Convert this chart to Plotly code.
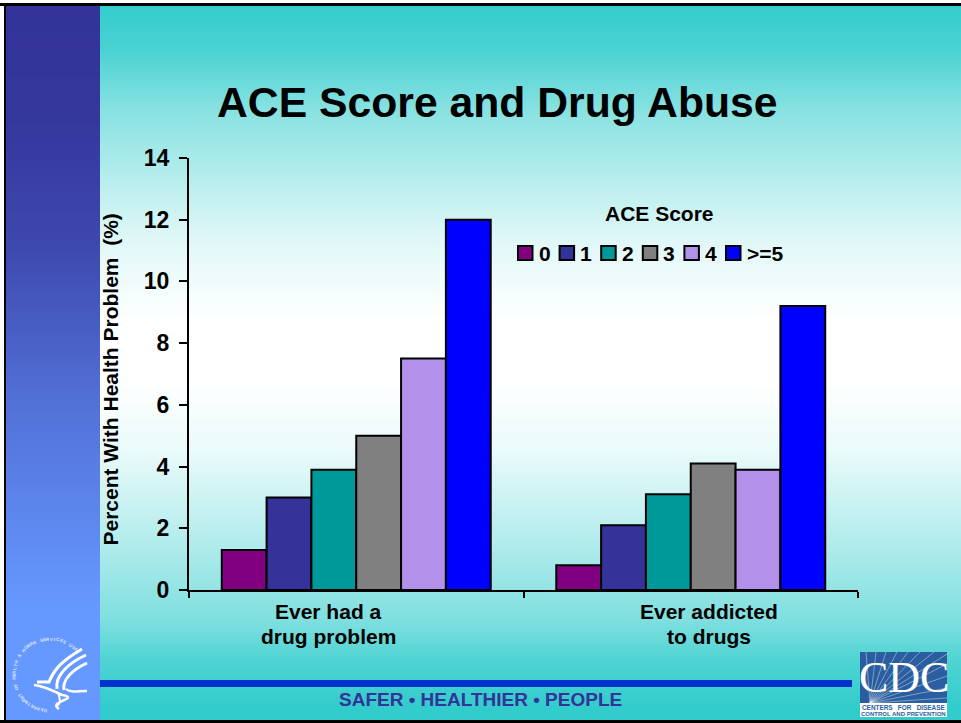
import base64
import math
import struct
import zlib

import numpy as np
import plotly.graph_objects as go

W, H = 961, 723

# ---- data ----
CATEGORIES = ["Ever had a<br>drug problem", "Ever addicted<br>to drugs"]
CATEGORY_LABEL_X = [328, 708.5]
SERIES_NAMES = ["0", "1", "2", "3", "4", ">=5"]
SERIES_COLORS = ["#800080", "#333399", "#009999", "#808080", "#B391EB", "#0000FF"]
SCORE_0 = [1.3, 0.8]
SCORE_1 = [3.0, 2.1]
SCORE_2 = [3.9, 3.1]
SCORE_3 = [5.0, 4.1]
SCORE_4 = [7.5, 3.9]
SCORE_5 = [12.0, 9.2]
SERIES_VALUES = [SCORE_0, SCORE_1, SCORE_2, SCORE_3, SCORE_4, SCORE_5]
Y_TICKS = [0, 2, 4, 6, 8, 10, 12, 14]

TITLE = "ACE Score and Drug Abuse"
Y_TITLE = "Percent With Health Problem \u00a0(%)"
LEGEND_TITLE = "ACE Score"
FOOTER = "SAFER \u2022 HEALTHIER \u2022 PEOPLE"
SEAL_TEXT = "DEPARTMENT OF HEALTH & HUMAN SERVICES USA"

FONT = "Liberation Sans"


def px(x):
    return x / W


def py(y):
    return 1 - y / H


def png_background():
    ys = np.arange(H)
    white = np.interp(ys, [5, 50, 110, 240, 320, 380, 450, 550, 620, 660, 705],
                      [0, .12, .42, .85, 1, 1, .9, .6, .37, .14, 0])
    band = np.interp(ys, [5, 120, 240, 400, 610], [0, .04, .2, .6, 1])
    teal = np.array([0x33, 0xCC, 0xCC], float)
    b0 = np.array([0x33, 0x33, 0x99], float)
    b1 = np.array([0x66, 0x99, 0xFF], float)
    rows = []
    for y in range(H):
        row = np.zeros((W, 3), dtype=np.uint8)
        row[:] = (teal + (255 - teal) * white[y]).round()
        row[:100] = (b0 + (b1 - b0) * band[y]).round()
        row[:4] = 255
        row[4:6] = 0
        if y < 3:
            row[:] = 255
        elif y < 6:
            row[:] = 0
        if y >= 720:
            row[:] = 0
        rows.append(b"\x00" + row.tobytes())
    raw = zlib.compress(b"".join(rows), 9)

    def chunk(tag, data):
        return (struct.pack(">I", len(data)) + tag + data +
                struct.pack(">I", zlib.crc32(tag + data) & 0xFFFFFFFF))

    png = (b"\x89PNG\r\n\x1a\n" +
           chunk(b"IHDR", struct.pack(">IIBBBBB", W, H, 8, 2, 0, 0, 0)) +
           chunk(b"IDAT", raw) + chunk(b"IEND", b""))
    return "data:image/png;base64," + base64.b64encode(png).decode()


def path(cmds):
    out = []
    for c in cmds:
        if isinstance(c, str):
            out.append(c)
        else:
            out.append(f"{px(c[0]):.5f},{py(c[1]):.5f}")
    return " ".join(out)


fig = go.Figure()
for name, vals, col in zip(SERIES_NAMES, SERIES_VALUES, SERIES_COLORS):
    fig.add_trace(go.Bar(name=name, x=CATEGORIES, y=vals, marker=dict(color=col, line=dict(color="black", width=2))))

shapes = []
ann = []


def text(x, y, s, size, color="black", bold=True, family=FONT, angle=0, xanchor="center", opacity=1):
    ann.append(dict(xref="paper", yref="paper", x=px(x), y=py(y), text=s, showarrow=False,
                    xanchor=xanchor, yanchor="middle", textangle=angle, opacity=opacity,
                    font=dict(family=family, size=size, color=color, weight=700 if bold else 400)))


text(498, 102, TITLE, 42.7)
text(109.5, 380, Y_TITLE, 21, angle=-90)
for cat, cx in zip(CATEGORIES, CATEGORY_LABEL_X):
    for line, ly in zip(cat.split("<br>"), [611.5, 636.5]):
        text(cx, ly, line, 21)

# legend
text(659, 213, LEGEND_TITLE, 21)
for i, (name, col) in enumerate(zip(SERIES_NAMES, SERIES_COLORS)):
    x0 = 518 + i * 41.6
    shapes.append(dict(type="rect", xref="paper", yref="paper", x0=px(x0), x1=px(x0 + 14.5), y0=py(260), y1=py(246),
                       fillcolor=col, line=dict(color="black", width=2)))
    text(x0 + 18.5, 254, name, 21, xanchor="left")

# footer rule and text
shapes.append(dict(type="rect", xref="paper", yref="paper", x0=px(100), x1=px(852), y0=py(687), y1=py(680),
                   fillcolor="#0033CC", line=dict(width=0)))
text(480, 699, FOOTER, 19, color="#333399")

# HHS seal
scx, scy, r = 50, 675, 36
n = len(SEAL_TEXT)
for i, ch in enumerate(SEAL_TEXT):
    a = math.radians(-172 + i * 218 / (n - 1))
    text(scx + r * math.sin(a), scy - r * math.cos(a), ch, 4.5, color="white", angle=math.degrees(a), opacity=.75)
strokes = [
    ([(37, 682), "L", (49, 682), "C", (54, 670), (60, 662), (82, 649)], 3),
    ([(57, 689), "C", (55, 677), (66, 664), (86, 655)], 3),
    ([(64, 690), "C", (62, 680), (72, 670), (87, 663)], 3),
    ([(34, 685), "C", (44, 686), (54, 691), (62, 695), "C", (69, 696), (70, 698), (64, 700),
      "C", (58, 703), (53, 705), (59, 709)], 2.6),
    ([(66, 689), "C", (70, 693), (78, 691), (87, 691)], 2.4),
    ([(58, 692), "C", (60, 700), (62, 702), (56, 707)], 2),
]
for cmds, w in strokes:
    parts = ["M"] + cmds
    shapes.append(dict(type="path", xref="paper", yref="paper", path=path(parts), line=dict(color="white", width=w)))

# CDC logo
shapes.append(dict(type="rect", xref="paper", yref="paper", x0=px(860), x1=px(947), y0=py(717), y1=py(703),
                   fillcolor="white", line=dict(width=0)))
shapes.append(dict(type="rect", xref="paper", yref="paper", x0=px(860), x1=px(947), y0=py(703), y1=py(652),
                   fillcolor="#2A5EA0", line=dict(width=0)))
for ex, ey in [(866, 652), (876, 652), (886, 652), (897, 652), (908, 652), (920, 652), (934, 652), (947, 654),
               (947, 664), (947, 676), (947, 688), (947, 698)]:
    shapes.append(dict(type="line", xref="paper", yref="paper", x0=px(870), y0=py(703), x1=px(ex), y1=py(ey),
                       line=dict(color="rgba(255,255,255,.5)", width=.8)))
text(903.5, 677, "CDC", 44, color="white", bold=False, family="Liberation Serif")
text(903.5, 707, "CENTERS\u00a0\u00a0\u00a0FOR\u00a0\u00a0\u00a0DISEASE", 6.4, color="#2A5EA0")
text(903.5, 713.5, "CONTROL AND PREVENTION", 6, color="#2A5EA0")

axis_font = dict(family=FONT, size=23, color="black", weight=700)
fig.update_layout(
    width=W, height=H, autosize=False, margin=dict(l=0, r=0, t=0, b=0, pad=0, autoexpand=False),
    paper_bgcolor="white", plot_bgcolor="rgba(0,0,0,0)", barmode="group", bargap=0.196, bargroupgap=0,
    showlegend=False, shapes=shapes, annotations=ann,
    images=[dict(source=png_background(), xref="paper", yref="paper", x=0, y=1, sizex=1, sizey=1,
                 sizing="stretch", xanchor="left", yanchor="top", layer="below")],
    xaxis=dict(domain=[px(189), px(858)], type="category", tickson="boundaries", ticks="outside", ticklen=6,
               tickwidth=2, tickcolor="black", showline=True, linecolor="black", linewidth=2, showgrid=False,
               showticklabels=False, zeroline=False),
    yaxis=dict(domain=[py(590), py(158)], range=[0, 14], tickvals=Y_TICKS, ticks="outside", ticklen=8, tickwidth=2,
               tickcolor="black", showline=True, linecolor="black", linewidth=2, showgrid=False, zeroline=False,
               tickfont=axis_font, ticklabelstandoff=5),
)
fig.write_html("out.html", config=dict(displayModeBar=False),
               post_script="document.body.style.margin='0';document.body.style.overflow='hidden';")
